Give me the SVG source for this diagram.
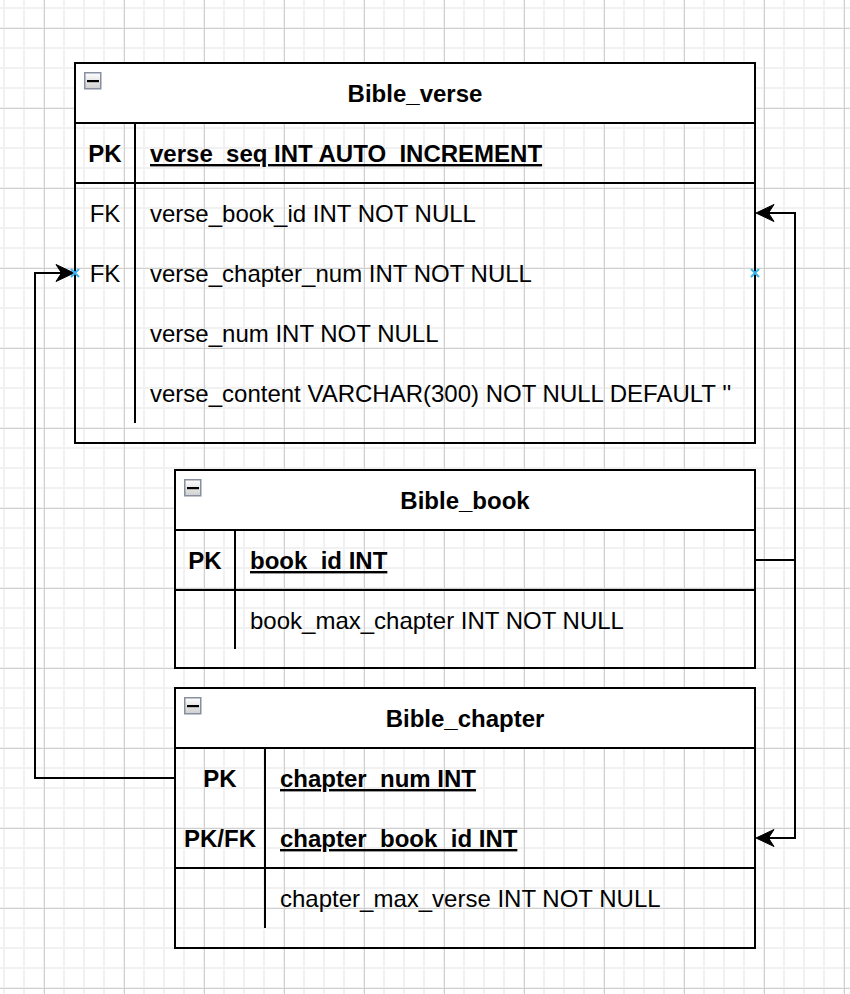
<svg xmlns="http://www.w3.org/2000/svg" width="850" height="994" viewBox="0 0 850 994">
<style>
.t{font-family:"Liberation Sans",Arial,Helvetica,sans-serif;font-size:24px;fill:#000}
.b{font-weight:bold}
.u{text-decoration:underline}
.m{text-anchor:middle}
.box{fill:none;stroke:#000;stroke-width:2}
.hdr{fill:#fff;stroke:#000;stroke-width:2}
.ln{stroke:#000;stroke-width:2;fill:none}
.conn{stroke:#000;stroke-width:2;fill:none}
.xm{stroke:#3ab4ef;stroke-width:2;fill:none}
</style>
<defs>
<pattern id="grid" x="3" y="7" width="80" height="80" patternUnits="userSpaceOnUse">
<rect x="0" y="0" width="2" height="80" fill="#f1f1f1"/>
<rect x="20" y="0" width="2" height="80" fill="#f1f1f1"/>
<rect x="40" y="0" width="2" height="80" fill="#f1f1f1"/>
<rect x="60" y="0" width="2" height="80" fill="#f1f1f1"/>
<rect x="0" y="0" width="80" height="2" fill="#f1f1f1"/>
<rect x="0" y="20" width="80" height="2" fill="#f1f1f1"/>
<rect x="0" y="40" width="80" height="2" fill="#f1f1f1"/>
<rect x="0" y="60" width="80" height="2" fill="#f1f1f1"/>
<rect x="41" y="0" width="1" height="80" fill="#d0d0d0"/>
<rect x="0" y="21" width="80" height="1" fill="#d0d0d0"/>
</pattern>
<linearGradient id="ig" x1="0" y1="0" x2="0" y2="1">
<stop offset="0" stop-color="#ffffff"/>
<stop offset="1" stop-color="#cfcfcf"/>
</linearGradient>
<g id="icon">
<rect x="0.75" y="0.75" width="16" height="16" fill="url(#ig)" stroke="#8690a0" stroke-width="1.5"/>
<rect x="3" y="8" width="12" height="2.2" fill="#000"/>
</g>
</defs>
<rect x="0" y="0" width="850" height="994" fill="#fff"/>
<rect x="0" y="0" width="850" height="994" fill="url(#grid)"/>

<g id="Bible_verse">
<rect class="hdr" x="75" y="63" width="680" height="60"/>
<rect class="box" x="75" y="63" width="680" height="380"/>
<use href="#icon" x="84" y="72"/>
<text class="t b m" x="415" y="102">Bible_verse</text>
<line class="ln" x1="75" y1="183" x2="755" y2="183"/>
<line class="ln" x1="135" y1="123" x2="135" y2="423"/>
<text class="t b m" x="105" y="162">PK</text>
<text class="t b u" x="150" y="162">verse_seq INT AUTO_INCREMENT</text>
<text class="t m" x="105" y="222">FK</text>
<text class="t" x="150" y="222">verse_book_id INT NOT NULL</text>
<text class="t m" x="105" y="282">FK</text>
<text class="t" x="150" y="282">verse_chapter_num INT NOT NULL</text>
<text class="t" x="150" y="342">verse_num INT NOT NULL</text>
<text class="t" x="150" y="402">verse_content VARCHAR(300) NOT NULL DEFAULT ''</text>
</g>

<g id="Bible_book">
<rect class="hdr" x="175" y="470" width="580" height="60"/>
<rect class="box" x="175" y="470" width="580" height="198"/>
<use href="#icon" x="184" y="479"/>
<text class="t b m" x="465" y="509">Bible_book</text>
<line class="ln" x1="175" y1="590" x2="755" y2="590"/>
<line class="ln" x1="235" y1="530" x2="235" y2="649"/>
<text class="t b m" x="205" y="569">PK</text>
<text class="t b u" x="250" y="569">book_id INT</text>
<text class="t" x="250" y="629">book_max_chapter INT NOT NULL</text>
</g>

<g id="Bible_chapter">
<rect class="hdr" x="175" y="688" width="580" height="60"/>
<rect class="box" x="175" y="688" width="580" height="260"/>
<use href="#icon" x="184" y="697"/>
<text class="t b m" x="465" y="727">Bible_chapter</text>
<line class="ln" x1="175" y1="868" x2="755" y2="868"/>
<line class="ln" x1="265" y1="748" x2="265" y2="928"/>
<text class="t b m" x="220" y="787">PK</text>
<text class="t b u" x="280" y="787">chapter_num INT</text>
<text class="t b m" x="220" y="847">PK/FK</text>
<text class="t b u" x="280" y="847">chapter_book_id INT</text>
<text class="t" x="280" y="907">chapter_max_verse INT NOT NULL</text>
</g>

<g id="connectors">
<path class="conn" d="M755,560 H795 V213 H768"/>
<path d="M756,213 L774,204.5 L768.5,213 L774,221.5 Z" fill="#000" stroke="#000" stroke-width="1"/>
<path class="conn" d="M795,560 V838 H768"/>
<path d="M756,838 L774,829.5 L768.5,838 L774,846.5 Z" fill="#000" stroke="#000" stroke-width="1"/>
<path class="conn" d="M175,778 H35 V273 H62"/>
<path d="M74,273 L56,264.5 L61.5,273 L56,281.5 Z" fill="#000" stroke="#000" stroke-width="1"/>
<path class="xm" d="M71,269 L79,277 M79,269 L71,277"/>
<path class="xm" d="M751,269 L759,277 M759,269 L751,277"/>
</g>
</svg>
